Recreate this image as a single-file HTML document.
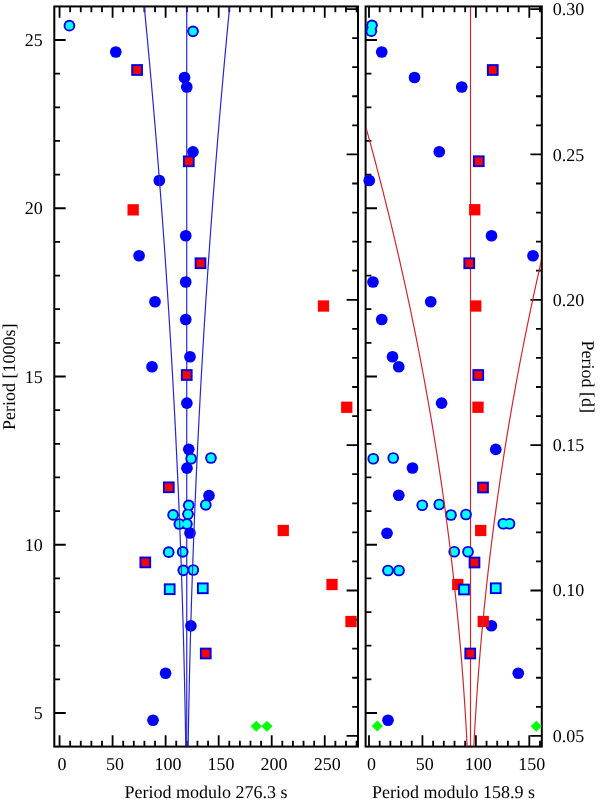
<!DOCTYPE html>
<html><head><meta charset="utf-8"><title>Period echelle</title>
<style>html,body{margin:0;padding:0;background:#fff}svg{display:block}</style></head>
<body>
<svg width="600" height="802" viewBox="0 0 600 802" font-family="'Liberation Serif', 'Times New Roman', serif" font-size="18" text-rendering="geometricPrecision" fill="#000">
<rect width="600" height="802" fill="#fff"/>
<defs>
<clipPath id="cl"><rect x="54.3" y="6.45" width="303.7" height="741.15"/></clipPath>
<clipPath id="cr"><rect x="365.6" y="6.45" width="176.19999999999993" height="741.15"/></clipPath>
<clipPath id="cl2"><rect x="55.0" y="7.15" width="302.3" height="739.4499999999999"/></clipPath>
<clipPath id="cr2"><rect x="366.3" y="7.15" width="174.79999999999993" height="739.4499999999999"/></clipPath>
</defs>
<path d="M59.55,6.45v11.4M59.55,746.6v-11.4M70.16,6.45v5.8M70.16,746.6v-5.8M80.77,6.45v5.8M80.77,746.6v-5.8M91.37,6.45v5.8M91.37,746.6v-5.8M101.98,6.45v5.8M101.98,746.6v-5.8M112.59,6.45v11.4M112.59,746.6v-11.4M123.20,6.45v5.8M123.20,746.6v-5.8M133.81,6.45v5.8M133.81,746.6v-5.8M144.41,6.45v5.8M144.41,746.6v-5.8M155.02,6.45v5.8M155.02,746.6v-5.8M165.63,6.45v11.4M165.63,746.6v-11.4M176.24,6.45v5.8M176.24,746.6v-5.8M186.85,6.45v5.8M186.85,746.6v-5.8M197.45,6.45v5.8M197.45,746.6v-5.8M208.06,6.45v5.8M208.06,746.6v-5.8M218.67,6.45v11.4M218.67,746.6v-11.4M229.28,6.45v5.8M229.28,746.6v-5.8M239.89,6.45v5.8M239.89,746.6v-5.8M250.49,6.45v5.8M250.49,746.6v-5.8M261.10,6.45v5.8M261.10,746.6v-5.8M271.71,6.45v11.4M271.71,746.6v-11.4M282.32,6.45v5.8M282.32,746.6v-5.8M292.93,6.45v5.8M292.93,746.6v-5.8M303.53,6.45v5.8M303.53,746.6v-5.8M314.14,6.45v5.8M314.14,746.6v-5.8M324.75,6.45v11.4M324.75,746.6v-11.4M335.36,6.45v5.8M335.36,746.6v-5.8M345.97,6.45v5.8M345.97,746.6v-5.8M356.57,6.45v5.8M356.57,746.6v-5.8M369.00,6.45v11.4M369.00,746.6v-11.4M379.69,6.45v5.8M379.69,746.6v-5.8M390.37,6.45v5.8M390.37,746.6v-5.8M401.06,6.45v5.8M401.06,746.6v-5.8M411.75,6.45v5.8M411.75,746.6v-5.8M422.44,6.45v11.4M422.44,746.6v-11.4M433.12,6.45v5.8M433.12,746.6v-5.8M443.81,6.45v5.8M443.81,746.6v-5.8M454.50,6.45v5.8M454.50,746.6v-5.8M465.18,6.45v5.8M465.18,746.6v-5.8M475.87,6.45v11.4M475.87,746.6v-11.4M486.56,6.45v5.8M486.56,746.6v-5.8M497.24,6.45v5.8M497.24,746.6v-5.8M507.93,6.45v5.8M507.93,746.6v-5.8M518.62,6.45v5.8M518.62,746.6v-5.8M529.31,6.45v11.4M529.31,746.6v-11.4M539.99,6.45v5.8M539.99,746.6v-5.8M54.3,713.00h11.4M365.6,713.00h11.4M54.3,679.35h5.8M365.6,679.35h5.8M54.3,645.70h5.8M365.6,645.70h5.8M54.3,612.05h5.8M365.6,612.05h5.8M54.3,578.40h5.8M365.6,578.40h5.8M54.3,544.75h11.4M365.6,544.75h11.4M54.3,511.10h5.8M365.6,511.10h5.8M54.3,477.45h5.8M365.6,477.45h5.8M54.3,443.80h5.8M365.6,443.80h5.8M54.3,410.15h5.8M365.6,410.15h5.8M54.3,376.50h11.4M365.6,376.50h11.4M54.3,342.85h5.8M365.6,342.85h5.8M54.3,309.20h5.8M365.6,309.20h5.8M54.3,275.55h5.8M365.6,275.55h5.8M54.3,241.90h5.8M365.6,241.90h5.8M54.3,208.25h11.4M365.6,208.25h11.4M54.3,174.60h5.8M365.6,174.60h5.8M54.3,140.95h5.8M365.6,140.95h5.8M54.3,107.30h5.8M365.6,107.30h5.8M54.3,73.65h5.8M365.6,73.65h5.8M54.3,40.00h11.4M365.6,40.00h11.4M358.0,735.88h-11.4M541.8,735.88h-11.4M358.0,706.81h-5.8M541.8,706.81h-5.8M358.0,677.73h-5.8M541.8,677.73h-5.8M358.0,648.66h-5.8M541.8,648.66h-5.8M358.0,619.59h-5.8M541.8,619.59h-5.8M358.0,590.51h-11.4M541.8,590.51h-11.4M358.0,561.44h-5.8M541.8,561.44h-5.8M358.0,532.37h-5.8M541.8,532.37h-5.8M358.0,503.29h-5.8M541.8,503.29h-5.8M358.0,474.22h-5.8M541.8,474.22h-5.8M358.0,445.15h-11.4M541.8,445.15h-11.4M358.0,416.07h-5.8M541.8,416.07h-5.8M358.0,387.00h-5.8M541.8,387.00h-5.8M358.0,357.93h-5.8M541.8,357.93h-5.8M358.0,328.85h-5.8M541.8,328.85h-5.8M358.0,299.78h-11.4M541.8,299.78h-11.4M358.0,270.70h-5.8M541.8,270.70h-5.8M358.0,241.63h-5.8M541.8,241.63h-5.8M358.0,212.56h-5.8M541.8,212.56h-5.8M358.0,183.48h-5.8M541.8,183.48h-5.8M358.0,154.41h-11.4M541.8,154.41h-11.4M358.0,125.34h-5.8M541.8,125.34h-5.8M358.0,96.26h-5.8M541.8,96.26h-5.8M358.0,67.19h-5.8M541.8,67.19h-5.8M358.0,38.12h-5.8M541.8,38.12h-5.8M358.0,9.04h-11.4M541.8,9.04h-11.4" stroke="#000" stroke-width="1.8" fill="none"/>
<line clip-path="url(#cl)" x1="186.75" y1="6.45" x2="186.75" y2="747.6" stroke="#2626d0" stroke-width="1.2"/>
<line clip-path="url(#cr)" x1="470.5" y1="6.45" x2="470.5" y2="747.6" stroke="#cc2830" stroke-width="1.2"/>
<rect x="54.3" y="6.45" width="303.7" height="740.15" fill="none" stroke="#000" stroke-width="2"/>
<rect x="365.6" y="6.45" width="176.19999999999993" height="740.15" fill="none" stroke="#000" stroke-width="2"/>
<g>
<circle cx="115.8" cy="52" r="5.85" fill="#0000ff"/>
<circle cx="184.5" cy="77.5" r="5.85" fill="#0000ff"/>
<circle cx="186.8" cy="87" r="5.85" fill="#0000ff"/>
<circle cx="193" cy="151.8" r="5.85" fill="#0000ff"/>
<circle cx="159.3" cy="180.5" r="5.85" fill="#0000ff"/>
<circle cx="185.75" cy="235.75" r="5.85" fill="#0000ff"/>
<circle cx="139.1" cy="255.75" r="5.85" fill="#0000ff"/>
<circle cx="185.75" cy="282" r="5.85" fill="#0000ff"/>
<circle cx="155" cy="301.75" r="5.85" fill="#0000ff"/>
<circle cx="185.75" cy="319.5" r="5.85" fill="#0000ff"/>
<circle cx="190" cy="356.75" r="5.85" fill="#0000ff"/>
<circle cx="152" cy="366.75" r="5.85" fill="#0000ff"/>
<circle cx="186.85" cy="403.2" r="5.85" fill="#0000ff"/>
<circle cx="188.75" cy="449.3" r="5.85" fill="#0000ff"/>
<circle cx="186.95" cy="468.2" r="5.85" fill="#0000ff"/>
<circle cx="209" cy="495.6" r="5.85" fill="#0000ff"/>
<circle cx="190" cy="533" r="5.85" fill="#0000ff"/>
<circle cx="190.9" cy="625.8" r="5.85" fill="#0000ff"/>
<circle cx="165.6" cy="673.25" r="5.85" fill="#0000ff"/>
<circle cx="153" cy="720.25" r="5.85" fill="#0000ff"/>
<circle cx="69.4" cy="25.7" r="5.85" fill="#0000e4"/>
<circle cx="193" cy="31.3" r="5.85" fill="#0000e4"/>
<circle cx="191.15" cy="458.75" r="5.85" fill="#0000e4"/>
<circle cx="210.95" cy="458" r="5.85" fill="#0000e4"/>
<circle cx="205.8" cy="504.8" r="5.85" fill="#0000e4"/>
<circle cx="188.75" cy="505.3" r="5.85" fill="#0000e4"/>
<circle cx="173.1" cy="514.9" r="5.85" fill="#0000e4"/>
<circle cx="188" cy="514.2" r="5.85" fill="#0000e4"/>
<circle cx="179.3" cy="524" r="5.85" fill="#0000e4"/>
<circle cx="186.9" cy="524" r="5.85" fill="#0000e4"/>
<circle cx="168.7" cy="552.2" r="5.85" fill="#0000e4"/>
<circle cx="182.7" cy="551.8" r="5.85" fill="#0000e4"/>
<circle cx="183.3" cy="570.3" r="5.85" fill="#0000e4"/>
<circle cx="193.3" cy="570" r="5.85" fill="#0000e4"/>
<circle cx="69.4" cy="25.7" r="3.9" fill="#00ffff"/>
<circle cx="193" cy="31.3" r="3.9" fill="#00ffff"/>
<circle cx="191.15" cy="458.75" r="3.9" fill="#00ffff"/>
<circle cx="210.95" cy="458" r="3.9" fill="#00ffff"/>
<circle cx="205.8" cy="504.8" r="3.9" fill="#00ffff"/>
<circle cx="188.75" cy="505.3" r="3.9" fill="#00ffff"/>
<circle cx="173.1" cy="514.9" r="3.9" fill="#00ffff"/>
<circle cx="188" cy="514.2" r="3.9" fill="#00ffff"/>
<circle cx="179.3" cy="524" r="3.9" fill="#00ffff"/>
<circle cx="186.9" cy="524" r="3.9" fill="#00ffff"/>
<circle cx="168.7" cy="552.2" r="3.9" fill="#00ffff"/>
<circle cx="182.7" cy="551.8" r="3.9" fill="#00ffff"/>
<circle cx="183.3" cy="570.3" r="3.9" fill="#00ffff"/>
<circle cx="193.3" cy="570" r="3.9" fill="#00ffff"/>
<rect x="131.25" y="64.15" width="11.7" height="11.7" fill="#0000e4"/>
<rect x="182.95" y="155.45" width="11.7" height="11.7" fill="#0000e4"/>
<rect x="194.65" y="257.40" width="11.7" height="11.7" fill="#0000e4"/>
<rect x="180.90" y="369.15" width="11.7" height="11.7" fill="#0000e4"/>
<rect x="162.95" y="481.45" width="11.7" height="11.7" fill="#0000e4"/>
<rect x="139.45" y="556.55" width="11.7" height="11.7" fill="#0000e4"/>
<rect x="199.90" y="647.65" width="11.7" height="11.7" fill="#0000e4"/>
<rect x="133.20" y="66.10" width="7.8" height="7.8" fill="#ff0000"/>
<rect x="184.90" y="157.40" width="7.8" height="7.8" fill="#ff0000"/>
<rect x="196.60" y="259.35" width="7.8" height="7.8" fill="#ff0000"/>
<rect x="182.85" y="371.10" width="7.8" height="7.8" fill="#ff0000"/>
<rect x="164.90" y="483.40" width="7.8" height="7.8" fill="#ff0000"/>
<rect x="141.40" y="558.50" width="7.8" height="7.8" fill="#ff0000"/>
<rect x="201.85" y="649.60" width="7.8" height="7.8" fill="#ff0000"/>
<rect x="127.50" y="204.20" width="11.3" height="11.3" fill="#ff0000"/>
<rect x="317.85" y="300.35" width="11.3" height="11.3" fill="#ff0000"/>
<rect x="341.10" y="401.60" width="11.3" height="11.3" fill="#ff0000"/>
<rect x="277.60" y="524.85" width="11.3" height="11.3" fill="#ff0000"/>
<rect x="326.35" y="578.85" width="11.3" height="11.3" fill="#ff0000"/>
<rect x="345.35" y="615.85" width="11.3" height="11.3" fill="#ff0000"/>
<rect x="163.85" y="583.35" width="11.7" height="11.7" fill="#0000e4"/>
<rect x="196.95" y="582.45" width="11.7" height="11.7" fill="#0000e4"/>
<rect x="165.80" y="585.30" width="7.8" height="7.8" fill="#00ffff"/>
<rect x="198.90" y="584.40" width="7.8" height="7.8" fill="#00ffff"/>
<path d="M250.65,726.25 L256.25,720.65 L261.85,726.25 L256.25,731.85Z" fill="#00ff00"/>
<path d="M261.4,726.25 L267,720.65 L272.6,726.25 L267,731.85Z" fill="#00ff00"/>
</g>
<g clip-path="url(#cl2)" fill="none" stroke="#2626d0" stroke-width="1.2">
<path d="M185.74,746.65 L185.61,738.24 L185.48,729.82 L185.33,721.41 L185.18,713.00 L185.02,704.59 L184.85,696.17 L184.67,687.76 L184.49,679.35 L184.29,670.94 L184.09,662.52 L183.88,654.11 L183.67,645.70 L183.44,637.29 L183.21,628.88 L182.97,620.46 L182.72,612.05 L182.47,603.64 L182.21,595.23 L181.93,586.81 L181.66,578.40 L181.37,569.99 L181.07,561.57 L180.77,553.16 L180.46,544.75 L180.14,536.34 L179.82,527.92 L179.48,519.51 L179.14,511.10 L178.79,502.69 L178.43,494.27 L178.07,485.86 L177.69,477.45 L177.31,469.04 L176.92,460.62 L176.52,452.21 L176.12,443.80 L175.71,435.39 L175.29,426.97 L174.86,418.56 L174.42,410.15 L173.98,401.74 L173.53,393.32 L173.07,384.91 L172.60,376.50 L172.12,368.09 L171.64,359.68 L171.15,351.26 L170.65,342.85 L170.14,334.44 L169.63,326.02 L169.10,317.61 L168.57,309.20 L168.03,300.79 L167.49,292.38 L166.93,283.96 L166.37,275.55 L165.80,267.14 L165.22,258.73 L164.64,250.31 L164.04,241.90 L163.44,233.49 L162.83,225.07 L162.22,216.66 L161.59,208.25 L160.96,199.84 L160.32,191.42 L159.67,183.01 L159.01,174.60 L158.35,166.19 L157.67,157.77 L156.99,149.36 L156.31,140.95 L155.61,132.54 L154.91,124.12 L154.20,115.71 L153.48,107.30 L152.75,98.89 L152.01,90.47 L151.27,82.06 L150.52,73.65 L149.76,65.24 L148.99,56.83 L148.22,48.41 L147.44,40.00 L146.65,31.59 L145.85,23.18 L145.04,14.76 L144.23,6.35"/>
<path d="M188.16,746.65 L188.29,738.24 L188.42,729.82 L188.57,721.41 L188.72,713.00 L188.88,704.59 L189.05,696.17 L189.23,687.76 L189.41,679.35 L189.61,670.94 L189.81,662.52 L190.02,654.11 L190.23,645.70 L190.46,637.29 L190.69,628.88 L190.93,620.46 L191.18,612.05 L191.43,603.64 L191.69,595.23 L191.97,586.81 L192.24,578.40 L192.53,569.99 L192.83,561.57 L193.13,553.16 L193.44,544.75 L193.76,536.34 L194.08,527.92 L194.42,519.51 L194.76,511.10 L195.11,502.69 L195.47,494.27 L195.83,485.86 L196.21,477.45 L196.59,469.04 L196.98,460.62 L197.38,452.21 L197.78,443.80 L198.19,435.39 L198.61,426.97 L199.04,418.56 L199.48,410.15 L199.92,401.74 L200.37,393.32 L200.83,384.91 L201.30,376.50 L201.78,368.09 L202.26,359.68 L202.75,351.26 L203.25,342.85 L203.76,334.44 L204.27,326.02 L204.80,317.61 L205.33,309.20 L205.87,300.79 L206.41,292.38 L206.97,283.96 L207.53,275.55 L208.10,267.14 L208.68,258.73 L209.26,250.31 L209.86,241.90 L210.46,233.49 L211.07,225.07 L211.68,216.66 L212.31,208.25 L212.94,199.84 L213.58,191.42 L214.23,183.01 L214.89,174.60 L215.55,166.19 L216.23,157.77 L216.91,149.36 L217.59,140.95 L218.29,132.54 L218.99,124.12 L219.70,115.71 L220.42,107.30 L221.15,98.89 L221.89,90.47 L222.63,82.06 L223.38,73.65 L224.14,65.24 L224.91,56.83 L225.68,48.41 L226.46,40.00 L227.25,31.59 L228.05,23.18 L228.86,14.76 L229.67,6.35"/>
</g>
<g>
<circle cx="381.75" cy="52" r="5.85" fill="#0000ff"/>
<circle cx="414.5" cy="77.5" r="5.85" fill="#0000ff"/>
<circle cx="461.75" cy="87" r="5.85" fill="#0000ff"/>
<circle cx="439.25" cy="151.75" r="5.85" fill="#0000ff"/>
<circle cx="369.25" cy="180.5" r="5.85" fill="#0000ff"/>
<circle cx="491.5" cy="235.75" r="5.85" fill="#0000ff"/>
<circle cx="533" cy="255.75" r="5.85" fill="#0000ff"/>
<circle cx="373" cy="282" r="5.85" fill="#0000ff"/>
<circle cx="430.75" cy="301.75" r="5.85" fill="#0000ff"/>
<circle cx="381.75" cy="319.5" r="5.85" fill="#0000ff"/>
<circle cx="392.5" cy="356.75" r="5.85" fill="#0000ff"/>
<circle cx="398.75" cy="366.75" r="5.85" fill="#0000ff"/>
<circle cx="441.6" cy="403.2" r="5.85" fill="#0000ff"/>
<circle cx="495.75" cy="449.4" r="5.85" fill="#0000ff"/>
<circle cx="412.5" cy="468" r="5.85" fill="#0000ff"/>
<circle cx="398.75" cy="495.25" r="5.85" fill="#0000ff"/>
<circle cx="387" cy="533.25" r="5.85" fill="#0000ff"/>
<circle cx="491.4" cy="625.75" r="5.85" fill="#0000ff"/>
<circle cx="518.25" cy="673.25" r="5.85" fill="#0000ff"/>
<circle cx="388" cy="720.25" r="5.85" fill="#0000ff"/>
<circle cx="372" cy="25.3" r="5.85" fill="#0000e4"/>
<circle cx="371.3" cy="31.2" r="5.85" fill="#0000e4"/>
<circle cx="373.25" cy="458.75" r="5.85" fill="#0000e4"/>
<circle cx="393.25" cy="458" r="5.85" fill="#0000e4"/>
<circle cx="422.25" cy="505.25" r="5.85" fill="#0000e4"/>
<circle cx="439.25" cy="504.5" r="5.85" fill="#0000e4"/>
<circle cx="451" cy="515" r="5.85" fill="#0000e4"/>
<circle cx="466" cy="514.5" r="5.85" fill="#0000e4"/>
<circle cx="503.25" cy="523.75" r="5.85" fill="#0000e4"/>
<circle cx="509.5" cy="523.75" r="5.85" fill="#0000e4"/>
<circle cx="454.25" cy="551.75" r="5.85" fill="#0000e4"/>
<circle cx="468" cy="551.75" r="5.85" fill="#0000e4"/>
<circle cx="388" cy="570.5" r="5.85" fill="#0000e4"/>
<circle cx="399" cy="570.5" r="5.85" fill="#0000e4"/>
<circle cx="372" cy="25.3" r="3.9" fill="#00ffff"/>
<circle cx="371.3" cy="31.2" r="3.9" fill="#00ffff"/>
<circle cx="373.25" cy="458.75" r="3.9" fill="#00ffff"/>
<circle cx="393.25" cy="458" r="3.9" fill="#00ffff"/>
<circle cx="422.25" cy="505.25" r="3.9" fill="#00ffff"/>
<circle cx="439.25" cy="504.5" r="3.9" fill="#00ffff"/>
<circle cx="451" cy="515" r="3.9" fill="#00ffff"/>
<circle cx="466" cy="514.5" r="3.9" fill="#00ffff"/>
<circle cx="503.25" cy="523.75" r="3.9" fill="#00ffff"/>
<circle cx="509.5" cy="523.75" r="3.9" fill="#00ffff"/>
<circle cx="454.25" cy="551.75" r="3.9" fill="#00ffff"/>
<circle cx="468" cy="551.75" r="3.9" fill="#00ffff"/>
<circle cx="388" cy="570.5" r="3.9" fill="#00ffff"/>
<circle cx="399" cy="570.5" r="3.9" fill="#00ffff"/>
<rect x="486.90" y="64.15" width="11.7" height="11.7" fill="#0000e4"/>
<rect x="472.90" y="155.40" width="11.7" height="11.7" fill="#0000e4"/>
<rect x="463.40" y="257.40" width="11.7" height="11.7" fill="#0000e4"/>
<rect x="472.40" y="369.15" width="11.7" height="11.7" fill="#0000e4"/>
<rect x="477.15" y="481.65" width="11.7" height="11.7" fill="#0000e4"/>
<rect x="468.65" y="556.65" width="11.7" height="11.7" fill="#0000e4"/>
<rect x="464.40" y="647.65" width="11.7" height="11.7" fill="#0000e4"/>
<rect x="488.85" y="66.10" width="7.8" height="7.8" fill="#ff0000"/>
<rect x="474.85" y="157.35" width="7.8" height="7.8" fill="#ff0000"/>
<rect x="465.35" y="259.35" width="7.8" height="7.8" fill="#ff0000"/>
<rect x="474.35" y="371.10" width="7.8" height="7.8" fill="#ff0000"/>
<rect x="479.10" y="483.60" width="7.8" height="7.8" fill="#ff0000"/>
<rect x="470.60" y="558.60" width="7.8" height="7.8" fill="#ff0000"/>
<rect x="466.35" y="649.60" width="7.8" height="7.8" fill="#ff0000"/>
<rect x="469.10" y="204.10" width="11.3" height="11.3" fill="#ff0000"/>
<rect x="470.10" y="300.35" width="11.3" height="11.3" fill="#ff0000"/>
<rect x="472.35" y="401.60" width="11.3" height="11.3" fill="#ff0000"/>
<rect x="475.10" y="524.85" width="11.3" height="11.3" fill="#ff0000"/>
<rect x="452.10" y="578.85" width="11.3" height="11.3" fill="#ff0000"/>
<rect x="477.60" y="615.85" width="11.3" height="11.3" fill="#ff0000"/>
<rect x="458.15" y="583.65" width="11.7" height="11.7" fill="#0000e4"/>
<rect x="489.90" y="582.40" width="11.7" height="11.7" fill="#0000e4"/>
<rect x="460.10" y="585.60" width="7.8" height="7.8" fill="#00ffff"/>
<rect x="491.85" y="584.35" width="7.8" height="7.8" fill="#00ffff"/>
<path d="M371.7,726 L377.3,720.4 L382.90000000000003,726 L377.3,731.6Z" fill="#00ff00"/>
<path d="M530.65,726.25 L536.25,720.65 L541.85,726.25 L536.25,731.85Z" fill="#00ff00"/>
</g>
<g clip-path="url(#cr2)" fill="none" stroke="#cc2830" stroke-width="1.2">
<path d="M467.17,746.65 L466.74,738.24 L466.28,729.82 L465.80,721.41 L465.29,713.00 L464.76,704.59 L464.20,696.17 L463.61,687.76 L463.00,679.35 L462.36,670.94 L461.70,662.52 L461.01,654.11 L460.29,645.70 L459.55,637.29 L458.78,628.88 L457.99,620.46 L457.17,612.05 L456.32,603.64 L455.45,595.23 L454.55,586.81 L453.63,578.40 L452.68,569.99 L451.70,561.57 L450.70,553.16 L449.67,544.75 L448.62,536.34 L447.53,527.92 L446.43,519.51 L445.30,511.10 L444.14,502.69 L442.95,494.27 L441.74,485.86 L440.50,477.45 L439.24,469.04 L437.95,460.62 L436.64,452.21 L435.30,443.80 L433.93,435.39 L432.54,426.97 L431.12,418.56 L429.67,410.15 L428.20,401.74 L426.70,393.32 L425.18,384.91 L423.63,376.50 L422.06,368.09 L420.46,359.68 L418.83,351.26 L417.18,342.85 L415.50,334.44 L413.79,326.02 L412.06,317.61 L410.30,309.20 L408.52,300.79 L406.71,292.38 L404.87,283.96 L403.01,275.55 L401.12,267.14 L399.21,258.73 L397.27,250.31 L395.30,241.90 L393.31,233.49 L391.29,225.07 L389.25,216.66 L387.18,208.25 L385.08,199.84 L382.96,191.42 L380.81,183.01 L378.64,174.60 L376.44,166.19 L374.21,157.77 L371.96,149.36 L369.68,140.95 L367.38,132.54 L365.05,124.12 L362.69,115.71 L360.31,107.30 L357.90,98.89 L355.47,90.47 L353.01,82.06 L350.52,73.65 L348.01,65.24 L345.47,56.83 L342.90,48.41 L340.31,40.00 L337.70,31.59 L335.05,23.18 L332.38,14.76 L329.69,6.35"/>
<path d="M473.83,746.65 L474.26,738.24 L474.72,729.82 L475.20,721.41 L475.71,713.00 L476.24,704.59 L476.80,696.17 L477.39,687.76 L478.00,679.35 L478.64,670.94 L479.30,662.52 L479.99,654.11 L480.71,645.70 L481.45,637.29 L482.22,628.88 L483.01,620.46 L483.83,612.05 L484.68,603.64 L485.55,595.23 L486.45,586.81 L487.37,578.40 L488.32,569.99 L489.30,561.57 L490.30,553.16 L491.33,544.75 L492.38,536.34 L493.47,527.92 L494.57,519.51 L495.70,511.10 L496.86,502.69 L498.05,494.27 L499.26,485.86 L500.50,477.45 L501.76,469.04 L503.05,460.62 L504.36,452.21 L505.70,443.80 L507.07,435.39 L508.46,426.97 L509.88,418.56 L511.33,410.15 L512.80,401.74 L514.30,393.32 L515.82,384.91 L517.37,376.50 L518.94,368.09 L520.54,359.68 L522.17,351.26 L523.82,342.85 L525.50,334.44 L527.21,326.02 L528.94,317.61 L530.70,309.20 L532.48,300.79 L534.29,292.38 L536.13,283.96 L537.99,275.55 L539.88,267.14 L541.79,258.73 L543.73,250.31 L545.70,241.90 L547.69,233.49 L549.71,225.07 L551.75,216.66 L553.82,208.25 L555.92,199.84 L558.04,191.42 L560.19,183.01 L562.36,174.60 L564.56,166.19 L566.79,157.77 L569.04,149.36 L571.32,140.95 L573.62,132.54 L575.95,124.12 L578.31,115.71 L580.69,107.30 L583.10,98.89 L585.53,90.47 L587.99,82.06 L590.48,73.65 L592.99,65.24 L595.53,56.83 L598.10,48.41 L600.69,40.00 L603.30,31.59 L605.95,23.18 L608.62,14.76 L611.31,6.35"/>
</g>
<text transform="translate(61.95,770.2)" text-anchor="middle">0</text>
<text transform="translate(114.99,770.2)" text-anchor="middle">50</text>
<text transform="translate(168.03,770.2)" text-anchor="middle">100</text>
<text transform="translate(221.07,770.2)" text-anchor="middle">150</text>
<text transform="translate(274.11,770.2)" text-anchor="middle">200</text>
<text transform="translate(327.15,770.2)" text-anchor="middle">250</text>
<text transform="translate(371.40,770.2)" text-anchor="middle">0</text>
<text transform="translate(424.83,770.2)" text-anchor="middle">50</text>
<text transform="translate(478.27,770.2)" text-anchor="middle">100</text>
<text transform="translate(531.71,770.2)" text-anchor="middle">150</text>
<text transform="translate(42.8,719.10)" text-anchor="end">5</text>
<text transform="translate(42.8,550.85)" text-anchor="end">10</text>
<text transform="translate(42.8,382.60)" text-anchor="end">15</text>
<text transform="translate(42.8,214.35)" text-anchor="end">20</text>
<text transform="translate(42.8,46.10)" text-anchor="end">25</text>
<text transform="translate(552.8,741.58)">0.05</text>
<text transform="translate(552.8,596.31)">0.10</text>
<text transform="translate(552.8,451.04)">0.15</text>
<text transform="translate(552.8,305.77)">0.20</text>
<text transform="translate(552.8,160.50)">0.25</text>
<text transform="translate(552.8,15.24)">0.30</text>
<text transform="translate(205.9,798.2)" text-anchor="middle">Period modulo 276.3 s</text>
<text transform="translate(453.5,798.2)" text-anchor="middle">Period modulo 158.9 s</text>
<text transform="translate(15.4,376.7) rotate(-90)" text-anchor="middle">Period [1000s]</text>
<text transform="translate(582.0,376.8) rotate(90)" text-anchor="middle">Period [d]</text>
</svg>
</body></html>
